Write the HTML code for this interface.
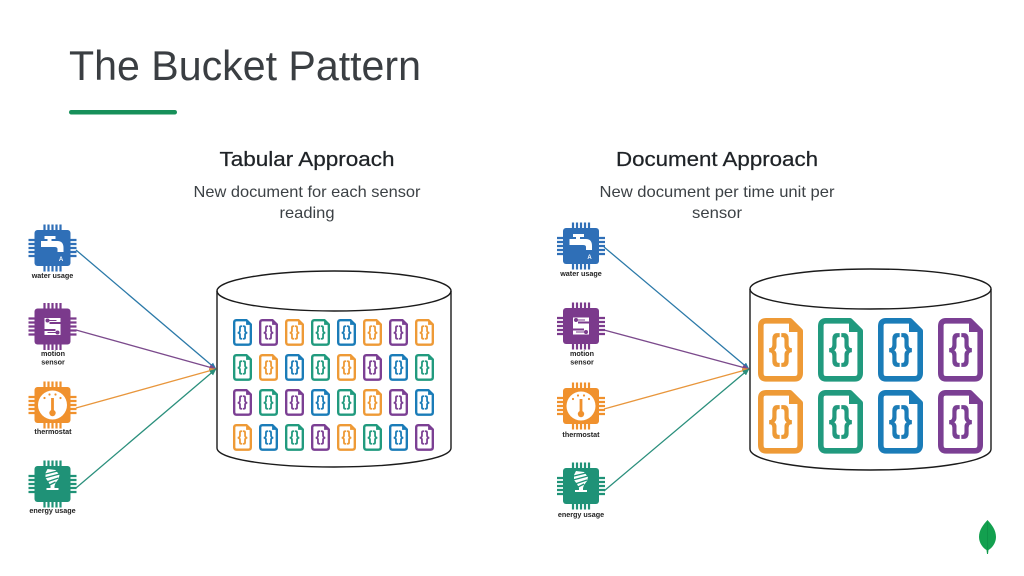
<!DOCTYPE html>
<html><head><meta charset="utf-8"><title>The Bucket Pattern</title>
<style>html,body{margin:0;padding:0;background:#fff;width:1024px;height:576px;overflow:hidden}svg{display:block}text{font-family:"Liberation Sans",sans-serif}</style></head>
<body>
<svg width="1024" height="576" viewBox="0 0 1024 576" xmlns="http://www.w3.org/2000/svg">
<defs>
<symbol id="d" viewBox="0 0 45 64">
<path d="M8 2.800H32L42.200 13V55Q42.200 60.800 36.500 60.800H8Q2.800 60.800 2.800 55V8Q2.800 2.800 8 2.800Z" fill="#fff" stroke="currentColor" stroke-width="5.600" stroke-linejoin="round"/>
<path d="M31 2L43 14H31Z" fill="currentColor"/>
<g font-size="35" font-weight="700" fill="currentColor" stroke="currentColor" stroke-width=".7" style="font-family:'Liberation Sans',sans-serif">
<text x="11" y="41" textLength="11" lengthAdjust="spacingAndGlyphs">{</text>
<text x="23" y="41" textLength="11" lengthAdjust="spacingAndGlyphs">}</text>
</g>
</symbol>
<g id="pins" fill="currentColor">
<path d="M-9.100-23.500h2.200v6h-2.200zM-5.100-23.500h2.200v6h-2.200zM-1.100-23.500h2.200v6h-2.200zM2.900-23.500h2.200v6h-2.200zM6.900-23.500h2.200v6h-2.200zM-9.100 17.500h2.200v6h-2.200zM-5.100 17.500h2.200v6h-2.200zM-1.100 17.500h2.200v6h-2.200zM2.900 17.500h2.200v6h-2.200zM6.900 17.500h2.200v6h-2.200zM-24-9.100h6v2.200h-6zM-24-5.100h6v2.200h-6zM-24-1.100h6v2.200h-6zM-24 2.900h6v2.200h-6zM-24 6.900h6v2.200h-6zM18-9.100h6v2.200h-6zM18-5.100h6v2.200h-6zM18-1.100h6v2.200h-6zM18 2.900h6v2.200h-6zM18 6.900h6v2.200h-6z"/>
<rect x="-18" y="-18" width="36" height="36" rx="3"/>
</g>
<g id="water"><use href="#pins" color="#2f6fb7"/>
<path d="M-11.500-7H-5V-9H-8V-12H3V-9H-1V-7H5Q11-7 11 0V4H5V1Q5-1 2-1H-11.500Z" fill="#fff"/>
<text x="8.500" y="13" font-size="6" font-weight="700" text-anchor="middle" fill="#fff">A</text></g>
<g id="motion"><use href="#pins" color="#7b3a8c"/>
<path d="M-8-8.500H8V-4.500H-3V-2.500H8V8.500H-8V4.500H3V2.500H-8Z" fill="#fff"/>
<circle cx="-5" cy="-6" r="2" fill="#7b3a8c"/><path d="M-5-6.500H4V-5.500H-5Z" fill="#7b3a8c"/>
<circle cx="5" cy="6" r="2" fill="#7b3a8c"/><path d="M-5 5.500H5V6.500H-5Z" fill="#7b3a8c"/></g>
<g id="thermo"><use href="#pins" color="#f0912d"/>
<circle r="14.500" fill="#fff"/>
<rect x="-1.400" y="-7" width="2.800" height="15" fill="#f0912d"/><circle cy="8" r="3.200" fill="#f0912d"/>
<circle cx="-8" cy="-7" r="1.100" fill="#f0912d"/><circle cx="-3" cy="-10.500" r="1.100" fill="#f0912d"/><circle cx="3" cy="-10.500" r="1.100" fill="#f0912d"/><circle cx="8" cy="-7" r="1.100" fill="#f0912d"/></g>
<g id="bulb"><use href="#pins" color="#1f9277"/>
<path d="M-5-15L3-14L7-9L6-5L3-1L2 2V4H6V6H-6V4H-2V2L-4-2L-7-6L-7-11Z" fill="#fff"/>
<path d="M-7-10L5-13M-8-6L7-10M-6-2L6-6M-3 1L3-2" stroke="#1f9277" stroke-width="1.300"/></g>
<marker id="mb" markerWidth="7" markerHeight="6" refX="6.500" refY="3" orient="auto" markerUnits="userSpaceOnUse"><path d="M0 0L7 3L0 6Z" fill="#2b79a8"/></marker>
<marker id="mp" markerWidth="7" markerHeight="6" refX="6.500" refY="3" orient="auto" markerUnits="userSpaceOnUse"><path d="M0 0L7 3L0 6Z" fill="#7b4a8c"/></marker>
<marker id="mo" markerWidth="7" markerHeight="6" refX="6.500" refY="3" orient="auto" markerUnits="userSpaceOnUse"><path d="M0 0L7 3L0 6Z" fill="#e8963c"/></marker>
<marker id="mg" markerWidth="7" markerHeight="6" refX="6.500" refY="3" orient="auto" markerUnits="userSpaceOnUse"><path d="M0 0L7 3L0 6Z" fill="#2a8f7c"/></marker>
</defs>

<text x="69" y="80" font-size="42" fill="#3a3e42" textLength="352" lengthAdjust="spacingAndGlyphs">The Bucket Pattern</text>
<rect x="69" y="110" width="108" height="4.500" rx="2.200" fill="#17905a"/>

<text x="307" y="166" font-size="20.500" fill="#1f2327" text-anchor="middle" textLength="175" lengthAdjust="spacingAndGlyphs" stroke="#1f2327" stroke-width=".25">Tabular Approach</text>
<text x="307" y="197" font-size="16" fill="#3c4145" text-anchor="middle" textLength="227" lengthAdjust="spacingAndGlyphs">New document for each sensor</text>
<text x="307" y="218" font-size="16" fill="#3c4145" text-anchor="middle" textLength="55" lengthAdjust="spacingAndGlyphs">reading</text>

<text x="717" y="166" font-size="20.500" fill="#1f2327" text-anchor="middle" textLength="202" lengthAdjust="spacingAndGlyphs" stroke="#1f2327" stroke-width=".25">Document Approach</text>
<text x="717" y="197" font-size="16" fill="#3c4145" text-anchor="middle" textLength="235" lengthAdjust="spacingAndGlyphs">New document per time unit per</text>
<text x="717" y="218" font-size="16" fill="#3c4145" text-anchor="middle" textLength="50" lengthAdjust="spacingAndGlyphs">sensor</text>

<g fill="none" stroke="#1b1b1b" stroke-width="1.400">
<ellipse cx="334" cy="291" rx="117" ry="20"/>
<path d="M217 291V448C217 459 269 467 334 467S451 459 451 448V291"/>
<ellipse cx="870.500" cy="289" rx="120.500" ry="20"/>
<path d="M750 289V449C750 461 804 470 870.500 470S991 461 991 449V289"/>
</g>

<g fill="none" stroke-width="1.300">
<path d="M76 250L216 369" stroke="#2b79a8" marker-end="url(#mb)"/>
<path d="M76 330L216 369" stroke="#7b4a8c" marker-end="url(#mp)"/>
<path d="M76 408L216 369" stroke="#e8963c" marker-end="url(#mo)"/>
<path d="M76 488L216 369" stroke="#2a8f7c" marker-end="url(#mg)"/>
<path d="M604 247L749 369" stroke="#2b79a8" marker-end="url(#mb)"/>
<path d="M604 330L749 369" stroke="#7b4a8c" marker-end="url(#mp)"/>
<path d="M604 409L749 369" stroke="#e8963c" marker-end="url(#mo)"/>
<path d="M604 491L749 369" stroke="#2a8f7c" marker-end="url(#mg)"/>
</g>

<use href="#water" transform="translate(52.500 248)"/>
<use href="#motion" transform="translate(52.500 326.500)"/>
<use href="#thermo" transform="translate(52.500 405)"/>
<use href="#bulb" transform="translate(52.500 484)"/>
<g font-size="7.200" font-weight="700" fill="#222" text-anchor="middle">
<text x="52.500" y="278">water usage</text>
<text x="53" y="356">motion</text><text x="53" y="364.500">sensor</text>
<text x="53" y="434">thermostat</text>
<text x="52.500" y="513">energy usage</text>
</g>
<use href="#water" transform="translate(581 246)"/>
<use href="#motion" transform="translate(581 326)"/>
<use href="#thermo" transform="translate(581 406)"/>
<use href="#bulb" transform="translate(581 486)"/>
<g font-size="7.200" font-weight="700" fill="#222" text-anchor="middle">
<text x="581" y="276">water usage</text>
<text x="582" y="356">motion</text><text x="582" y="364.500">sensor</text>
<text x="581" y="437">thermostat</text>
<text x="581" y="517">energy usage</text>
</g>

<g>
<use href="#d" x="233" y="319" width="19" height="27" color="#1a7cb8"/><use href="#d" x="259" y="319" width="19" height="27" color="#7b3f93"/><use href="#d" x="285" y="319" width="19" height="27" color="#ee9a36"/><use href="#d" x="311" y="319" width="19" height="27" color="#219a7e"/><use href="#d" x="337" y="319" width="19" height="27" color="#1a7cb8"/><use href="#d" x="363" y="319" width="19" height="27" color="#ee9a36"/><use href="#d" x="389" y="319" width="19" height="27" color="#7b3f93"/><use href="#d" x="415" y="319" width="19" height="27" color="#ee9a36"/>
<use href="#d" x="233" y="354" width="19" height="27" color="#219a7e"/><use href="#d" x="259" y="354" width="19" height="27" color="#ee9a36"/><use href="#d" x="285" y="354" width="19" height="27" color="#1a7cb8"/><use href="#d" x="311" y="354" width="19" height="27" color="#219a7e"/><use href="#d" x="337" y="354" width="19" height="27" color="#ee9a36"/><use href="#d" x="363" y="354" width="19" height="27" color="#7b3f93"/><use href="#d" x="389" y="354" width="19" height="27" color="#1a7cb8"/><use href="#d" x="415" y="354" width="19" height="27" color="#219a7e"/>
<use href="#d" x="233" y="389" width="19" height="27" color="#7b3f93"/><use href="#d" x="259" y="389" width="19" height="27" color="#219a7e"/><use href="#d" x="285" y="389" width="19" height="27" color="#7b3f93"/><use href="#d" x="311" y="389" width="19" height="27" color="#1a7cb8"/><use href="#d" x="337" y="389" width="19" height="27" color="#219a7e"/><use href="#d" x="363" y="389" width="19" height="27" color="#ee9a36"/><use href="#d" x="389" y="389" width="19" height="27" color="#7b3f93"/><use href="#d" x="415" y="389" width="19" height="27" color="#1a7cb8"/>
<use href="#d" x="233" y="424" width="19" height="27" color="#ee9a36"/><use href="#d" x="259" y="424" width="19" height="27" color="#1a7cb8"/><use href="#d" x="285" y="424" width="19" height="27" color="#219a7e"/><use href="#d" x="311" y="424" width="19" height="27" color="#7b3f93"/><use href="#d" x="337" y="424" width="19" height="27" color="#ee9a36"/><use href="#d" x="363" y="424" width="19" height="27" color="#219a7e"/><use href="#d" x="389" y="424" width="19" height="27" color="#1a7cb8"/><use href="#d" x="415" y="424" width="19" height="27" color="#7b3f93"/>
</g>
<g>
<use href="#d" x="758" y="318" width="45" height="64" color="#ee9a36"/><use href="#d" x="818" y="318" width="45" height="64" color="#219a7e"/><use href="#d" x="878" y="318" width="45" height="64" color="#1a7cb8"/><use href="#d" x="938" y="318" width="45" height="64" color="#7b3f93"/>
<use href="#d" x="758" y="390" width="45" height="64" color="#ee9a36"/><use href="#d" x="818" y="390" width="45" height="64" color="#219a7e"/><use href="#d" x="878" y="390" width="45" height="64" color="#1a7cb8"/><use href="#d" x="938" y="390" width="45" height="64" color="#7b3f93"/>
</g>

<path d="M987.500 520C983 525 979 530 979 537C979 543 983 548 986.500 550L987 554H988L988.500 550C992 548 996 543 996 537C996 530 992 525 987.500 520Z" fill="#13a04f"/>
<path d="M987.500 522V552" stroke="#0c8a43" stroke-width=".6"/>
</svg>
</body></html>
